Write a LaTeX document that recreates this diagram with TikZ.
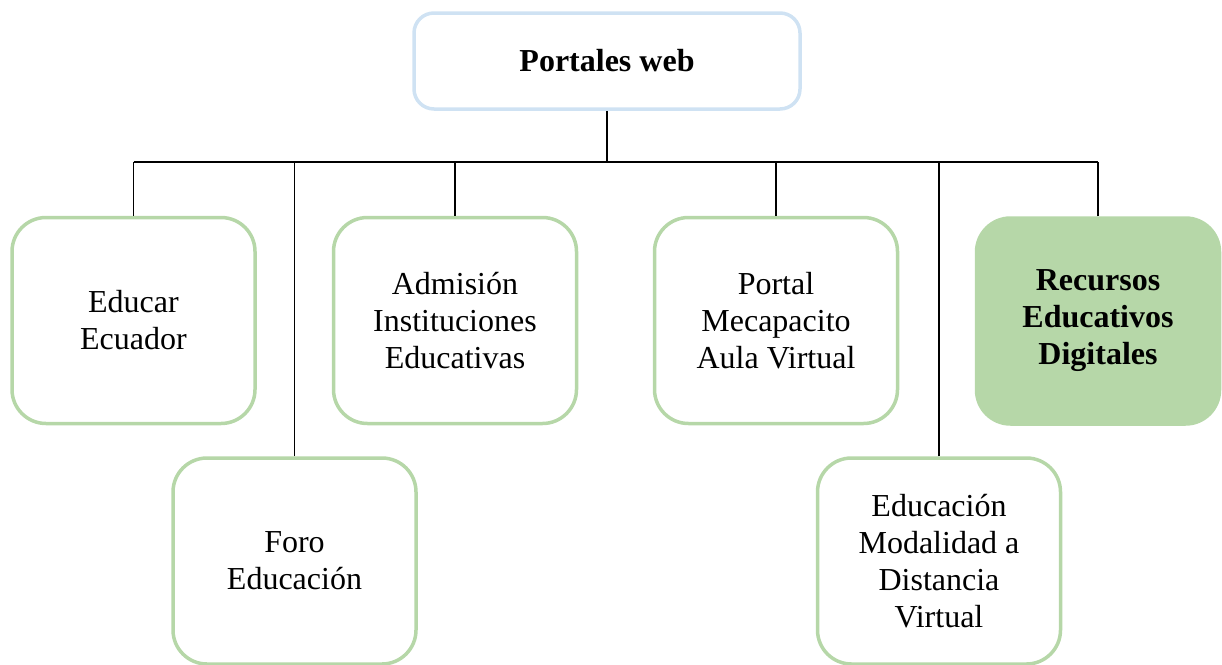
\documentclass[tikz,border=0pt]{standalone}
\usepackage{fontspec}
\setmainfont{Liberation Serif}
\definecolor{boxgreen}{HTML}{B6D7A8}
\definecolor{boxblue}{HTML}{CFE2F3}
\tikzset{
  txt/.style={font=\fontsize{32}{37}\selectfont, align=center, inner sep=0pt},
  gbox/.style={txt, draw=boxgreen, line width=3.5pt, rounded corners=34pt, minimum width=243pt, minimum height=206pt},
  gfill/.style={gbox, fill=boxgreen, font=\fontsize{32}{37}\selectfont\bfseries},
  tbox/.style={txt, draw=boxblue, line width=3.5pt, rounded corners=20pt, minimum width=386pt, minimum height=96pt, font=\fontsize{32}{37}\selectfont\bfseries},
  conn/.style={draw=black, line width=1.8pt}
}
\begin{document}
\begin{tikzpicture}[x=1pt,y=-1pt]
\useasboundingbox (0,0) rectangle (1222,664);
\node[tbox] (top) at (607,61) {Portales web};
\node[gbox] (educar) at (133.5,320.5) {Educar\\Ecuador};
\node[gbox] (admision) at (455,320.5) {Admisión\\Instituciones\\Educativas};
\node[gbox] (portal) at (776,320.5) {Portal\\Mecapacito\\Aula Virtual};
\node[gfill] (recursos) at (1098,321) {Recursos\\Educativos\\Digitales};
\node[gbox] (foro) at (294.5,561) {Foro\\Educación};
\node[gbox] (modalidad) at (939,561) {Educación\\Modalidad a\\Distancia\\Virtual};
\coordinate (barL) at (133.5,162);
\coordinate (barR) at (1098,162);
\draw[conn] (top.south) -- (top.south |- barL);
\draw[conn] (barL) -- (barR);
\draw[conn] (educar.north) -- (educar.north |- barL);
\draw[conn] (foro.north) -- (foro.north |- barL);
\draw[conn] (admision.north) -- (admision.north |- barL);
\draw[conn] (portal.north) -- (portal.north |- barL);
\draw[conn] (modalidad.north) -- (modalidad.north |- barL);
\draw[conn] (recursos.north) -- (recursos.north |- barL);
\end{tikzpicture}
\end{document}
